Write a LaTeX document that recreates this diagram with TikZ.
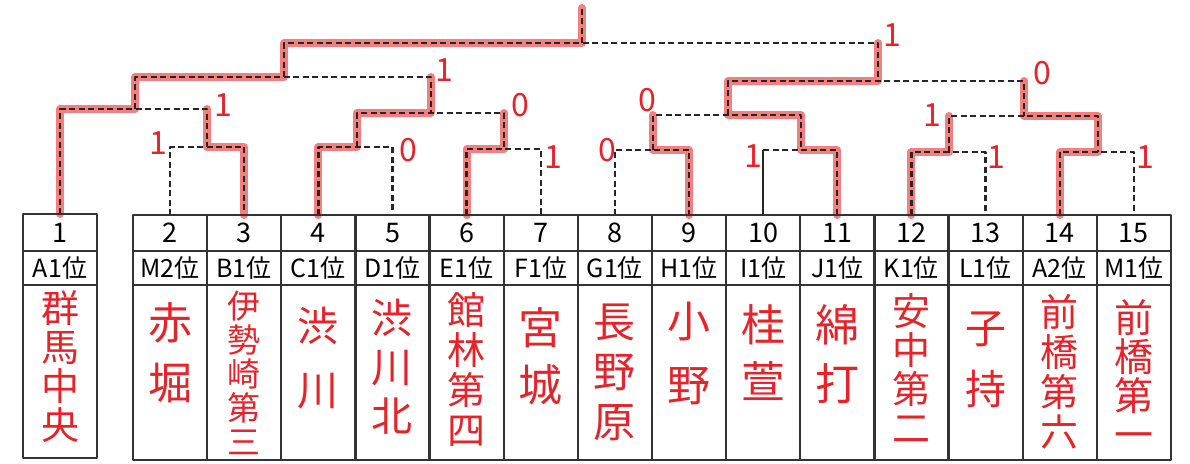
\documentclass[tikz,border=0pt]{standalone}
\usepackage{fontspec}
\setmainfont{Noto Sans CJK JP}
\definecolor{pen}{RGB}{230,35,40}
\definecolor{marker}{RGB}{240,95,95}
\tikzset{
  grid/.style={line width=2.2pt, black!80},
  bracket/.style={line width=2.3pt, black!85, dash pattern=on 6pt off 3.5pt},
  win/.style={line width=8pt, marker, opacity=.8, line cap=round},
  score/.style={pen, font=\fontsize{32}{32}\selectfont, inner sep=0pt},
  num/.style={font=\fontsize{27}{27}\selectfont, inner sep=0pt},
  seat/.style={font=\fontsize{25}{25}\selectfont, inner sep=0pt},
  school/.style={pen, anchor=base, inner sep=0pt},
}
\begin{document}
\begin{tikzpicture}[x=1pt, y=-1pt, line join = round]
\useasboundingbox (0,0) rectangle (1190,463);
% leaves
\coordinate [] (t1) at (60,214);
\foreach \i in {2,...,15}
    \coordinate [] (t\i) at ({170.07+74.14*(\i-2)},215);
% rounds
\coordinate [] (m23) at (207,147);
\coordinate [] (m45) at (357,147);
\coordinate [] (m67) at (504,149);
\coordinate [] (m89) at (653,150);
\coordinate [] (m1011) at (801,150);
\coordinate [] (m1213) at (949,152);
\coordinate [] (m1415) at (1098,152);
\coordinate [] (q1) at (135,109);
\coordinate [] (q2) at (431,113);
\coordinate [] (q3) at (728,115);
\coordinate [] (q4) at (1024,116);
\coordinate [] (s1) at (284,77);
\coordinate [] (s2) at (878,81);
\coordinate [] (f) at (582,43);
\coordinate [] (top) at (582,8);

% winners
\draw[win] (t1) |- (q1) |- (s1) |- (f) -- (top);
\draw[win] (t3) |- (m23) -- (m23 |- q1);
\draw[win] (t4) |- (m45) |- (q2) -- (q2 |- s1);
\draw[win] (t6) |- (m67) -- (m67 |- q2);
\draw[win] (t9) |- (m89) -- (m89 |- q3);
\draw[win] (t11) |- (m1011) |- (q3) |- (s2) -- (s2 |- f);
\draw[win] (t12) |- (m1213) -- (m1213 |- q4);
\draw[win] (t14) |- (m1415) |- (q4) -- (q4 |- s2);

% bracket
\foreach \a/\m/\b in {t2/m23/t3, t4/m45/t5, t6/m67/t7, t8/m89/t9, t12/m1213/t13,
    t14/m1415/t15, t1/q1/m23, m45/q2/m67, m89/q3/m1011, m1213/q4/m1415,
    q1/s1/q2, q3/s2/q4, s1/f/s2}
    \draw[bracket] (\a) |- (\m) -| (\b);
\draw[bracket] (t10 |- m1011) -- (m1011) -| (t11);
\draw[line width=2.2pt, black!85] (t10) -- (t10 |- m1011);
\draw[bracket] (f) -- (top);

% table
\draw[grid] (23,214) rectangle (97,458);
\draw[grid] (23,251) -- (97,251) (23,285) -- (97,285);
\draw[grid] (133,215) rectangle (1171,460);
\draw[grid] (133,251) -- (1171,251) (133,285) -- (1171,285);
\foreach \k in {1,...,13}
    \draw[grid] ({133+74.14*\k},215) -- ({133+74.14*\k},460);

\foreach \i/\s in {1/A1位, 2/M2位, 3/B1位, 4/C1位, 5/D1位, 6/E1位, 7/F1位, 8/G1位,
    9/H1位, 10/I1位, 11/J1位, 12/K1位, 13/L1位, 14/A2位, 15/M1位} {
    \node[num] (n\i) at (t\i |- 0,233) {\i};
    \node[seat] (r\i) at (t\i |- 0,268) {\s};
}

% schools
\foreach \i/\fs/\gap/\cy/\nm in {1/38/39/308/{群,馬,中,央}, 2/44/60/323/{赤,堀},
    3/33/34/306/{伊,勢,崎,第,三}, 4/41/64/326/{渋,川}, 5/41/49/318/{渋,川,北},
    6/38/40/310/{館,林,第,四}, 7/44/57/328/{宮,城}, 8/42/50/322/{長,野,原},
    9/43/64/321/{小,野}, 10/44/57/325/{桂,萱}, 11/44/59/325/{綿,打},
    12/38/39/311/{安,中,第,二}, 13/41/61/328/{子,持}, 14/38/40/312/{前,橋,第,六},
    15/39/39/318/{前,橋,第,一}}
    \foreach \ch [count=\k] in \nm {
        \pgfmathsetmacro\yy{\cy+(\k-1)*\gap+0.38*\fs}
        \node[school, font=\fontsize{\fs}{\fs}\selectfont] (s\i-\k) at (t\i |- 0,\yy) {\ch};
    }

% scores
\foreach \x/\y/\v in {158/143/1, 223/105/1, 444/70/1, 408/150/0, 520/105/0,
    553/157/1, 607/150/0, 647/100/0, 753/156/1, 892/35/1, 1042/73/0,
    932/115/1, 996/157/1, 1145/157/1}
    \node[score] (p\x) at (\x,\y) {\v};
\end{tikzpicture}
\end{document}
